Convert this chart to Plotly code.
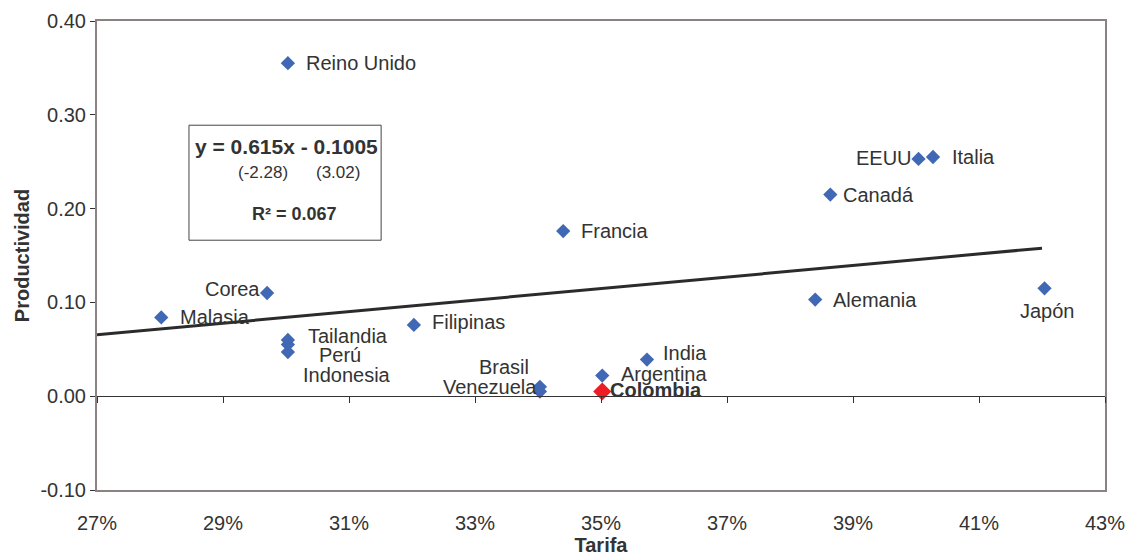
import plotly.graph_objects as go

# ---- data ----
countries = ["Reino Unido", "Malasia", "Corea", "Tailandia", "Perú", "Indonesia",
             "Filipinas", "Francia", "Brasil", "Venezuela", "Argentina", "India",
             "Alemania", "Canadá", "EEUU", "Italia", "Japón"]
tarifa = [0.3003, 0.2802, 0.2970, 0.3003, 0.3003, 0.3003,
          0.3203, 0.3440, 0.3403, 0.3403, 0.3502, 0.3573,
          0.3840, 0.3864, 0.4004, 0.4027, 0.4204]
productividad = [0.355, 0.084, 0.110, 0.060, 0.055, 0.047,
                 0.076, 0.176, 0.010, 0.005, 0.022, 0.039,
                 0.103, 0.215, 0.253, 0.255, 0.115]

highlight_name = ["Colombia"]
highlight_x = [0.3502]
highlight_y = [0.005]

slope = 0.615
intercept = -0.1005
t_stats = ["(-2.28)", "(3.02)"]
r_squared = "0.067"
trend_x = [0.27, 0.42]
trend_y = [slope * v + intercept for v in trend_x]

x_ticks = [0.27, 0.29, 0.31, 0.33, 0.35, 0.37, 0.39, 0.41, 0.43]
y_ticks = [-0.10, 0.00, 0.10, 0.20, 0.30, 0.40]
y_ticktext = ["-0.10", "0.00", "0.10", "0.20", "0.30", "0.40"]

# ---- label placement (style/position, not data) ----
label_pos = {
    "Reino Unido": ("left", 16, 0),
    "Malasia": ("left", 17, 0),
    "Corea": ("right", -5, 4),
    "Tailandia": ("left", 18, 4),
    "Perú": ("left", 29, -10),
    "Indonesia": ("left", 13, -23),
    "Filipinas": ("left", 16, 3),
    "Francia": ("left", 16, 0),
    "Brasil": ("right", -9, 20),
    "Venezuela": ("right", -1, 5),
    "Argentina": ("left", 17, 2),
    "India": ("left", 14, 7),
    "Alemania": ("left", 16, 0),
    "Canadá": ("left", 11, 0),
    "EEUU": ("right", -5, 1),
    "Italia": ("left", 17, 0),
    "Japón": ("center", 3, -23),
}

FONT = "Liberation Sans, Arial, sans-serif"
TXT = "#333333"
FRAME = "#8c8282"
FS = 20

fig = go.Figure()

fig.add_trace(go.Scatter(x=trend_x, y=trend_y, mode="lines",
                         line=dict(color="#2b2b2b", width=3),
                         hoverinfo="skip", showlegend=False))
fig.add_trace(go.Scatter(x=tarifa, y=productividad, mode="markers", text=countries,
                         marker=dict(symbol="diamond", size=11, color="#4068b4"),
                         showlegend=False))
fig.add_trace(go.Scatter(x=highlight_x, y=highlight_y, mode="markers", text=highlight_name,
                         marker=dict(symbol="diamond", size=14, color="#ee1c24"),
                         showlegend=False))
# invisible trace to host the zero-line axis
fig.add_trace(go.Scatter(x=trend_x, y=trend_y, xaxis="x2", mode="lines",
                         line=dict(width=0), opacity=0, hoverinfo="skip", showlegend=False))

annotations = []
for name, xv, yv in zip(countries, tarifa, productividad):
    anchor, dx, dy = label_pos[name]
    annotations.append(dict(x=xv, y=yv, text=name, showarrow=False,
                            xanchor=anchor, yanchor="middle", xshift=dx, yshift=dy,
                            font=dict(family=FONT, size=FS, color=TXT)))
for name, xv, yv in zip(highlight_name, highlight_x, highlight_y):
    annotations.append(dict(x=xv, y=yv, text="<b>" + name + "</b>", showarrow=False,
                            xanchor="left", yanchor="middle", xshift=6, yshift=2,
                            font=dict(family=FONT, size=FS, color=TXT)))

# equation box text
annotations += [
    dict(x=0.3001, y=0.2667, text="<b>y = %gx - %g</b>" % (slope, -intercept), showarrow=False,
         xanchor="center", yanchor="middle", font=dict(family=FONT, size=21, color=TXT)),
    dict(x=0.2963, y=0.2388, text=t_stats[0], showarrow=False,
         xanchor="center", yanchor="middle", font=dict(family=FONT, size=17, color=TXT)),
    dict(x=0.3083, y=0.2388, text=t_stats[1], showarrow=False,
         xanchor="center", yanchor="middle", font=dict(family=FONT, size=17, color=TXT)),
    dict(x=0.3014, y=0.1942, text="<b>R² = " + r_squared + "</b>", showarrow=False,
         xanchor="center", yanchor="middle", font=dict(family=FONT, size=18, color=TXT)),
]

fig.update_layout(
    width=1130, height=557,
    margin=dict(l=97, r=25, t=21, b=67),
    paper_bgcolor="white", plot_bgcolor="white",
    font=dict(family=FONT, size=FS, color=TXT),
    annotations=annotations,
    shapes=[dict(type="rect", xref="x", yref="y", x0=0.2846, x1=0.3151, y0=0.1663, y1=0.2889,
                 line=dict(color="#444444", width=1), fillcolor="rgba(0,0,0,0)")],
    xaxis=dict(range=[0.27, 0.43], tickvals=x_ticks, tickformat=".0%",
               automargin=False,
               showgrid=False, zeroline=False, showline=True, mirror=True,
               linecolor=FRAME, linewidth=2, ticks="outside", ticklen=14,
               tickcolor="rgba(0,0,0,0)",
               tickfont=dict(family=FONT, size=FS, color=TXT),
               title=dict(text="<b>Tarifa</b>", standoff=2,
                          font=dict(family=FONT, size=FS, color=TXT))),
    xaxis2=dict(range=[0.27, 0.43], tickvals=x_ticks, overlaying="x", anchor="free",
                position=0.2, side="bottom", showgrid=False, zeroline=False,
                automargin=False,
                showline=True, linecolor="#333333", linewidth=1,
                ticks="outside", ticklen=6, tickcolor="#333333", showticklabels=False),
    yaxis=dict(range=[-0.10, 0.40], tickvals=y_ticks, ticktext=y_ticktext,
               automargin=False,
               showgrid=False, zeroline=False, showline=True, mirror=True,
               linecolor=FRAME, linewidth=2, ticks="outside", ticklen=5,
               tickcolor="#333333",
               tickfont=dict(family=FONT, size=FS, color=TXT),
               title=dict(text="<b>Productividad</b>", standoff=5,
                          font=dict(family=FONT, size=FS, color=TXT))),
)

fig.write_html("out.html", config={"displayModeBar": False},
               post_script="document.body.style.margin='0';document.body.style.overflow='hidden';")
